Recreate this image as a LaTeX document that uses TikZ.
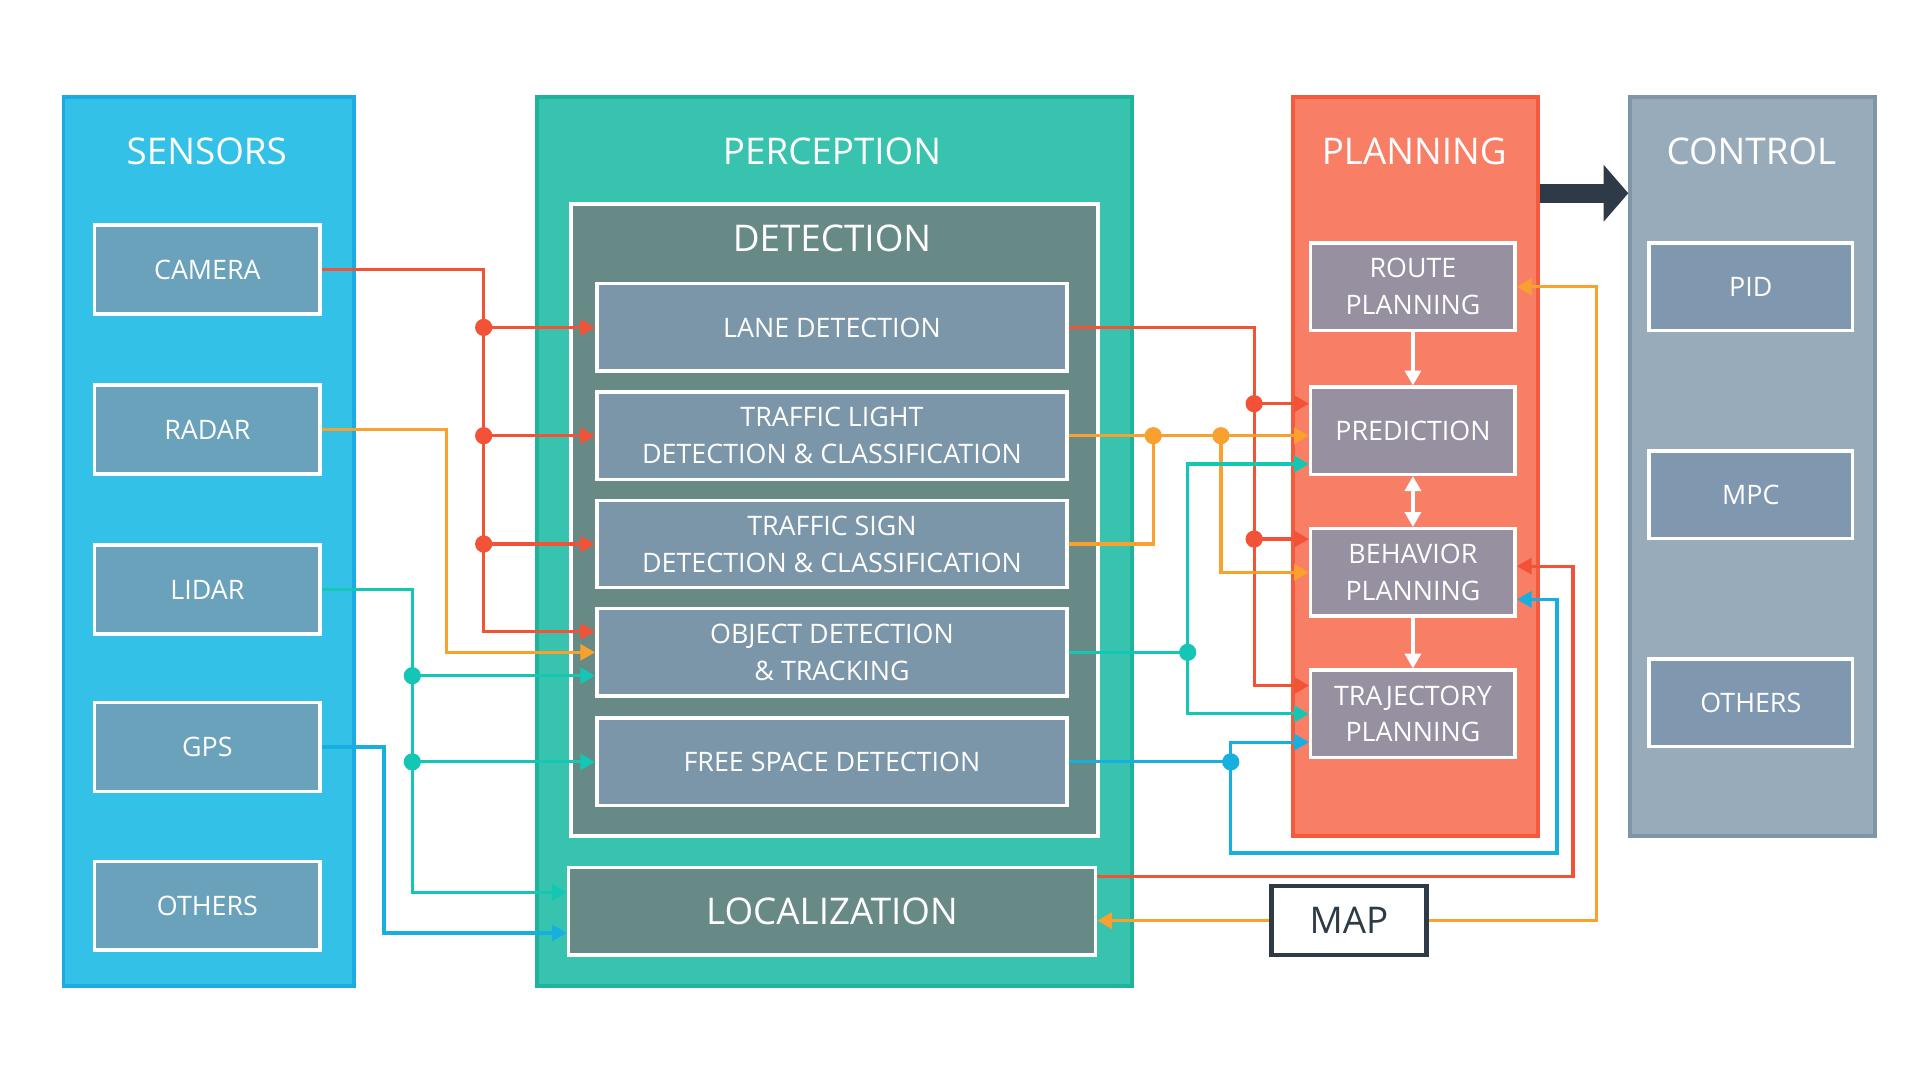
\documentclass[tikz,border=0pt]{standalone}
\usepackage{fontspec}
\setmainfont{Open Sans}
\usetikzlibrary{arrows.meta}
\definecolor{SensFill}{HTML}{33C1E8}
\definecolor{SensLine}{HTML}{1AABE0}
\definecolor{SensBox}{HTML}{6AA1BB}
\definecolor{PercFill}{HTML}{38C3AF}
\definecolor{PercLine}{HTML}{1EB39B}
\definecolor{DetFill}{HTML}{688A87}
\definecolor{DetBox}{HTML}{7A96A8}
\definecolor{PlanFill}{HTML}{F97E66}
\definecolor{PlanLine}{HTML}{F45A3E}
\definecolor{PlanBox}{HTML}{9790A0}
\definecolor{CtrlFill}{HTML}{97ABBB}
\definecolor{CtrlLine}{HTML}{7F95A8}
\definecolor{CtrlBox}{HTML}{7F98B0}
\definecolor{Dark}{HTML}{2E3A46}
\definecolor{cRed}{HTML}{F25236}
\definecolor{cOrange}{HTML}{F9A12F}
\definecolor{cTeal}{HTML}{14C7B5}
\definecolor{cBlue}{HTML}{17AEE0}
\tikzset{
  panel/.style={draw, line width=0.9pt, anchor=north west},
  title/.style={text=white, font=\fontsize{8.5}{10}\selectfont},
  box/.style={draw=white, line width=0.8pt, text=white, align=center,
    font=\fontsize{6.2}{8.5}\selectfont, inner sep=0pt},
  sbox/.style={box, fill=SensBox, minimum width=1.83cm, minimum height=0.72cm},
  dbox/.style={box, fill=DetBox, minimum width=3.82cm, minimum height=0.71cm},
  pbox/.style={box, fill=PlanBox, minimum width=1.66cm, minimum height=0.71cm},
  cbox/.style={box, fill=CtrlBox, minimum width=1.65cm, minimum height=0.71cm},
  con/.style={line width=0.75pt, -{Triangle[length=0.12cm,width=0.13cm]}},
  line/.style={line width=0.75pt},
  dot/.style={circle, fill, inner sep=0pt, minimum size=0.14cm}
}
\begin{document}
\begin{tikzpicture}[x=0.01cm, y=-0.01cm]
\useasboundingbox (0,0) rectangle (1560,877.5);
% panels
\node[panel, draw=SensLine, fill=SensFill, minimum width=2.36cm, minimum height=7.22cm] (sens) at (50,77) {};
\node[panel, draw=PercLine, fill=PercFill, minimum width=4.83cm, minimum height=7.22cm] (perc) at (435,77) {};
\node[panel, draw=white, fill=DetFill, minimum width=4.28cm, minimum height=5.13cm] (det) at (462,164) {};
\node[panel, draw=PlanLine, fill=PlanFill, minimum width=1.99cm, minimum height=6.00cm] (plan) at (1049,77) {};
\node[panel, draw=CtrlLine, fill=CtrlFill, minimum width=1.99cm, minimum height=6.00cm] (ctrl) at (1323,77) {};
\node[title] (tsens) at (168,123) {SENSORS};
\node[title] (tperc) at (676,123) {PERCEPTION};
\node[title] (tplan) at (1149,123) {PLANNING};
\node[title] (tctrl) at (1423,123) {CONTROL};
\node[title] (tdet) at (676,194) {DETECTION};
% sensors
\node[sbox] (camera) at (168.5,219) {CAMERA};
\node[sbox] (radar) at (168.5,349) {RADAR};
\node[sbox] (lidar) at (168.5,479) {LIDAR};
\node[sbox] (gps) at (168.5,607) {GPS};
\node[sbox] (sothers) at (168.5,736) {OTHERS};
% detection
\node[dbox] (lane) at (676,266) {LANE DETECTION};
\node[dbox] (tl) at (676,354) {TRAFFIC LIGHT\\DETECTION \& CLASSIFICATION};
\node[dbox] (ts) at (676,442) {TRAFFIC SIGN\\DETECTION \& CLASSIFICATION};
\node[dbox] (obj) at (676,530) {OBJECT DETECTION\\\& TRACKING};
\node[dbox] (free) at (676,619) {FREE SPACE DETECTION};
\node[box, fill=DetFill, minimum width=4.28cm, minimum height=0.71cm,
  font=\fontsize{8.5}{10}\selectfont] (loc) at (676,740.5) {LOCALIZATION};
% planning
\node[pbox] (route) at (1148,233) {ROUTE\\PLANNING};
\node[pbox] (pred) at (1148,350) {PREDICTION};
\node[pbox] (beh) at (1148,465) {BEHAVIOR\\PLANNING};
\node[pbox] (traj) at (1148,580) {TRAJECTORY\\PLANNING};
% control
\node[cbox] (pid) at (1422.5,233) {PID};
\node[cbox] (mpc) at (1422.5,402) {MPC};
\node[cbox] (cothers) at (1422.5,571) {OTHERS};
% map
\node[draw=Dark, line width=1pt, fill=white, text=Dark, minimum width=1.26cm,
  minimum height=0.56cm, inner sep=0pt, font=\fontsize{8.5}{10}\selectfont] (map) at (1096,748) {MAP};
% planning -> control
\draw[Dark, line width=4.5pt, -{Triangle[length=0.2cm,width=0.45cm]}] (plan.east |- 0,157) -- (ctrl.west |- 0,157);
% planning internal
\draw[white, con] (route) -- (pred);
\draw[white, line width=0.75pt, {Triangle[length=0.12cm,width=0.13cm]}-{Triangle[length=0.12cm,width=0.13cm]}] (pred) -- (beh);
\draw[white, con] (beh) -- (traj);
% camera
\coordinate (r1) at (393,266); \coordinate (r2) at (393,354); \coordinate (r3) at (393,442);
\draw[cRed, con] (camera.east) -- (393,219) -- (393,513) -- (obj.west |- 0,513);
\draw[cRed, con] (r1) -- (lane.west);
\draw[cRed, con] (r2) -- (tl.west);
\draw[cRed, con] (r3) -- (ts.west);
\foreach \p in {r1,r2,r3} \node[dot, cRed] at (\p) {};
% radar
\draw[cOrange, con] (radar.east) -- (363,349) -- (363,530) -- (obj.west);
% lidar
\coordinate (t1) at (335,549); \coordinate (t2) at (335,619);
\draw[cTeal, con] (lidar.east) -- (335,479) -- (335,725) -- (loc.west |- 0,725);
\draw[cTeal, con] (t1) -- (obj.west |- 0,549);
\draw[cTeal, con] (t2) -- (free.west);
\foreach \p in {t1,t2} \node[dot, cTeal] at (\p) {};
% gps
\draw[cBlue, con] (gps.east) -- (312,607) -- (312,758) -- (loc.west |- 0,758);
% lane
\coordinate (q1) at (1019,328); \coordinate (q2) at (1019,438);
\draw[cRed, con] (lane.east) -- (1019,266) -- (1019,557) -- (traj.west |- 0,557);
\draw[cRed, con] (q1) -- (pred.west |- 0,328);
\draw[cRed, con] (q2) -- (beh.west |- 0,438);
\foreach \p in {q1,q2} \node[dot, cRed] at (\p) {};
% traffic light / sign
\coordinate (o1) at (937,354); \coordinate (o2) at (992,354);
\draw[cOrange, con] (tl.east) -- (pred.west |- 0,354);
\draw[cOrange, line] (ts.east) -- (937,442) -- (o1);
\draw[cOrange, con] (o2) -- (992,465) -- (beh.west |- 0,465);
\foreach \p in {o1,o2} \node[dot, cOrange] at (\p) {};
% object
\coordinate (g1) at (965,530);
\draw[cTeal, line] (obj.east) -- (g1);
\draw[cTeal, con] (g1) -- (965,377) -- (pred.west |- 0,377);
\draw[cTeal, con] (g1) -- (965,580) -- (traj.west |- 0,580);
\node[dot, cTeal] at (g1) {};
% free space
\coordinate (b1) at (1000,619);
\draw[cBlue, line] (free.east) -- (b1);
\draw[cBlue, con] (b1) -- (1000,603) -- (traj.west |- 0,603);
\draw[cBlue, con] (b1) -- (1000,693) -- (1265,693) -- (1265,487) -- (beh.east |- 0,487);
\node[dot, cBlue] at (b1) {};
% localization
\draw[cRed, con] (loc.east |- 0,712) -- (1278,712) -- (1278,460) -- (beh.east |- 0,460);
% map
\draw[cOrange, con] (map.east) -- (1297,748) -- (1297,233) -- (route.east);
\draw[cOrange, con] (map.west) -- (loc.east |- 0,748);
\end{tikzpicture}
\end{document}
